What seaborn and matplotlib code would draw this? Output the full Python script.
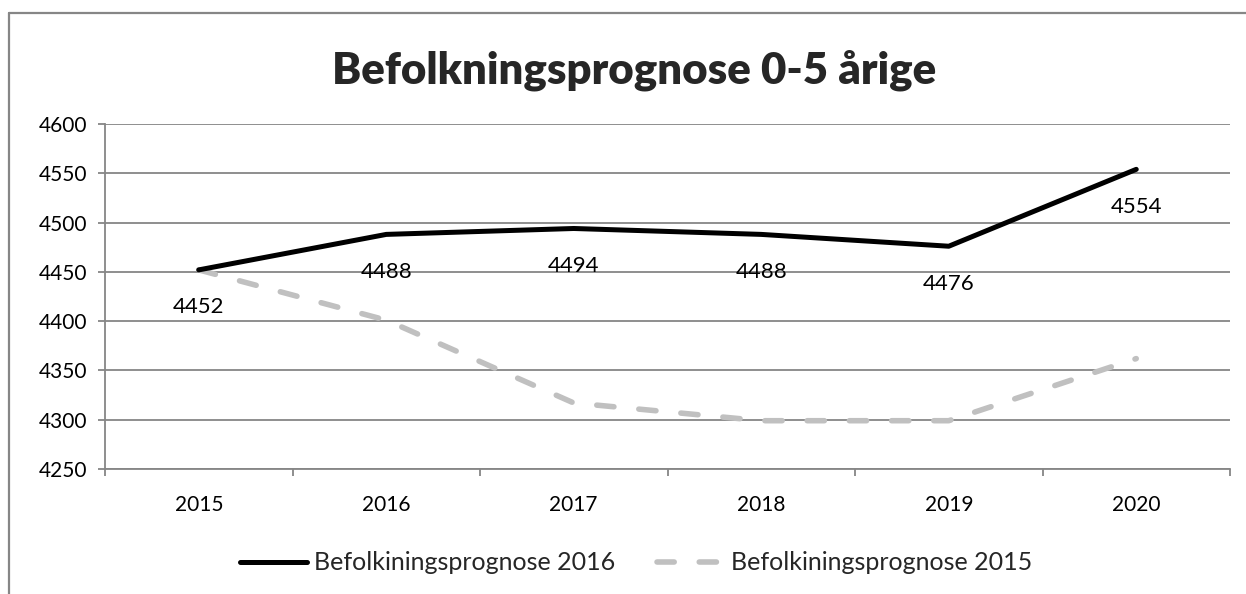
import numpy as np
import pandas as pd
import matplotlib.pyplot as plt
import seaborn as sns
from matplotlib.lines import Line2D

years = ["2015", "2016", "2017", "2018", "2019", "2020"]
prognose_2016 = [4452, 4488, 4494, 4488, 4476, 4554]
prognose_2015 = [4452, 4401, 4317, 4299, 4299, 4362]
label_2016 = "Befolkiningsprognose 2016"
label_2015 = "Befolkiningsprognose 2015"
title = "Befolkningsprognose 0-5 årige"

sns.set_theme(style="white")
plt.rcParams['font.family'] = ['Lato', 'DejaVu Sans']

W, H = 1246, 594
fig = plt.figure(figsize=(W / 100, H / 100), dpi=100)
ax = fig.add_axes([105 / W, 1 - 469 / H, (1230 - 105) / W, (469 - 124) / H])

grid_c = "#868686"
fs = 15
dash = (0, (3.1, 4.5))
pos = np.arange(len(years))
df = pd.DataFrame({"pos": pos, "p2016": prognose_2016, "p2015": prognose_2015})

sns.lineplot(data=df, x="pos", y="p2015", ax=ax, color="#c0c0c0", lw=4,
             linestyle=dash, dash_capstyle="round", zorder=3)
sns.lineplot(data=df, x="pos", y="p2016", ax=ax, color="black", lw=3.6,
             solid_capstyle="round", zorder=4)

# data labels below the 2016 points
for x, v in zip(pos, prognose_2016):
    ax.annotate(str(v), (x, v), xytext=(0, -27), textcoords="offset points",
                ha="center", va="center", fontsize=16, color="black")

ax.set_xlim(-0.5, len(years) - 0.5)
ax.set_ylim(4250, 4600)
ax.set_yticks(np.arange(4250, 4601, 50))
ax.set_xticks(pos)
ax.set_xticklabels(years)
ax.set_xticks(np.arange(-0.5, len(years), 1), minor=True)
ax.set_xlabel("")
ax.set_ylabel("")

ax.yaxis.grid(True, color=grid_c, lw=1.3)
ax.xaxis.grid(False)
ax.set_axisbelow(True)
for s in ["top", "right"]:
    ax.spines[s].set_visible(False)
for s in ["left", "bottom"]:
    ax.spines[s].set_color(grid_c)
    ax.spines[s].set_linewidth(1.3)

ax.tick_params(axis="y", which="major", left=True, length=5, color=grid_c,
               width=1.3, labelsize=fs, pad=8, labelcolor="black")
ax.tick_params(axis="x", which="major", bottom=False, labelsize=fs,
               pad=13, labelcolor="black")
ax.tick_params(axis="x", which="minor", bottom=True, length=5, color=grid_c,
               width=1.3)

fig.text(634 / W, 1 - 70 / H, title, ha="center", va="center",
         fontsize=31.5, fontweight="heavy")

handles = [
    Line2D([], [], color="black", lw=3.6, solid_capstyle="round"),
    Line2D([], [], color="#c0c0c0", lw=4, linestyle=dash,
           dash_capstyle="round"),
]
fig.legend(handles, [label_2016, label_2015], loc="center",
           bbox_to_anchor=(636 / W, 1 - 563 / H), ncol=2, frameon=False,
           fontsize=18, handlelength=2.7, handletextpad=0.25,
           columnspacing=1.7)

# outer chart frame (cropped on the right and bottom)
fig.add_artist(Line2D([8.5 / W, 8.5 / W], [0, 1 - 12.5 / H], color=grid_c,
                      lw=1.6, transform=fig.transFigure))
fig.add_artist(Line2D([8.5 / W, 1], [1 - 12.5 / H, 1 - 12.5 / H],
                      color=grid_c, lw=1.6, transform=fig.transFigure))

fig.savefig("out.png", dpi=100, facecolor="white")
